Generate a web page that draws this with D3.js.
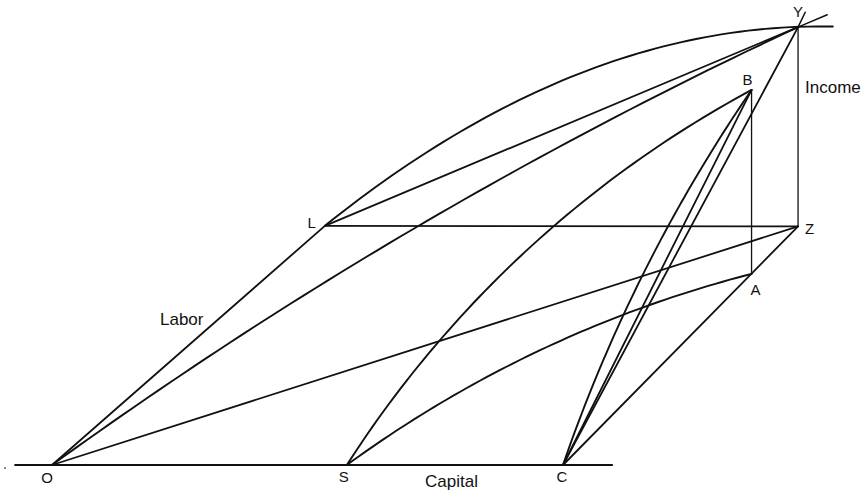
<!DOCTYPE html>
<html lang="en">
<head>
<meta charset="UTF-8">
<title>Income from Labor and Capital</title>
<style>
    body { margin: 0; background: #fff; }
    svg { display: block; }
    text { font-family: 'Liberation Sans', Arial, sans-serif; fill: #111; }
</style>
</head>
<body>
<svg width="868" height="493"></svg>
<script src="https://d3js.org/d3.v7.min.js"></script>
<script>
// points of the diagram, in capital units (O = origin, C = 100 along the capital axis)
const pointNames = ["O", "S", "C", "L", "Z", "A", "B", "Y"];
const pointX = [0, 57.7, 100, 53.4, 146, 136.9, 136.9, 146];
const pointY = [0, 0, 0, 46.8, 46.7, 37.4, 73.4, 85.7];

// straight segments between named points
const straights = [
    ["O", "L"], ["L", "Z"], ["L", "Y"], ["O", "Z"], ["C", "Z"],
    ["C", "B"], ["C", "Y"], ["B", "A"], ["Y", "Z"]
];

// the big curve from L over Y: a parabola (quadratic bezier) with its top just past Y
const topCurve = { from: "L", ctrl: [103.1, 86.8], end: [152.8, 85.8] };

// other curves: start, a point the curve passes through, end (circular arcs)
const arcs = [
    { from: "O", via: [71.4, 46.6], to: "Y" },
    { from: "S", via: [93.0, 42.1], to: "B" },
    { from: "S", via: [93.5, 21.5], to: "A" },
    { from: "C", via: [115.1, 36.2], to: "B" }
];

// short strokes running past Y
const tails = [[[146, 85.7], [151.7, 88.1]], [[146, 85.7], [147.4, 88.6]]];

// capital axis extent
const axisFrom = -7.2, axisTo = 109.6;

const svg = d3.select('svg');

const x = d3.scaleLinear().domain([0, 100]).range([52, 563]);
const y = d3.scaleLinear().domain([0, 100]).range([465, -46]);

const pts = {};
pointNames.forEach((n, i) => pts[n] = [pointX[i], pointY[i]]);

const line = d3.line().x(d => x(d[0])).y(d => y(d[1]));

// circle through three points, sampled from p1 to p3 passing p2
function arcPoints(p1, p2, p3) {
    const [ax, ay] = p1, [bx, by] = p2, [cx, cy] = p3;
    const d = 2 * (ax * (by - cy) + bx * (cy - ay) + cx * (ay - by));
    const ux = ((ax * ax + ay * ay) * (by - cy) + (bx * bx + by * by) * (cy - ay) + (cx * cx + cy * cy) * (ay - by)) / d;
    const uy = ((ax * ax + ay * ay) * (cx - bx) + (bx * bx + by * by) * (ax - cx) + (cx * cx + cy * cy) * (bx - ax)) / d;
    const r = Math.hypot(ax - ux, ay - uy);
    const a1 = Math.atan2(ay - uy, ax - ux);
    const a2 = Math.atan2(by - uy, bx - ux);
    const a3 = Math.atan2(cy - uy, cx - ux);
    const TAU = 2 * Math.PI;
    const ccw = ((a2 - a1 + TAU) % TAU) < ((a3 - a1 + TAU) % TAU);
    const span = ccw ? (a3 - a1 + TAU) % TAU : -((a1 - a3 + TAU) % TAU);
    return d3.range(0, 61).map(i => {
        const a = a1 + span * i / 60;
        return [ux + r * Math.cos(a), uy + r * Math.sin(a)];
    });
}

function quadPoints(p0, p1, p2) {
    return d3.range(0, 61).map(i => {
        const t = i / 60, u = 1 - t;
        return [u * u * p0[0] + 2 * u * t * p1[0] + t * t * p2[0],
                u * u * p0[1] + 2 * u * t * p1[1] + t * t * p2[1]];
    });
}

const g = svg.append('g')
    .attr('fill', 'none')
    .attr('stroke', '#111')
    .attr('stroke-linecap', 'round')
    .attr('stroke-linejoin', 'round');

// capital axis
g.append('line')
    .attr('x1', x(axisFrom)).attr('x2', x(axisTo))
    .attr('y1', y(0)).attr('y2', y(0))
    .attr('stroke-width', 2.2);

g.selectAll('.seg')
    .data(straights)
    .join('path')
    .attr('class', 'seg')
    .attr('d', d => line([pts[d[0]], pts[d[1]]]))
    .attr('stroke-width', d => (d[0] === 'B' || d[0] === 'Y') ? 1.3 : 1.8);

g.append('path')
    .attr('d', line(quadPoints(pts[topCurve.from], topCurve.ctrl, topCurve.end)))
    .attr('stroke-width', 1.9);

g.selectAll('.arc')
    .data(arcs)
    .join('path')
    .attr('class', 'arc')
    .attr('d', d => line(arcPoints(pts[d.from], d.via, pts[d.to])))
    .attr('stroke-width', 1.9);

g.selectAll('.tail')
    .data(tails)
    .join('path')
    .attr('class', 'tail')
    .attr('d', line)
    .attr('stroke-width', 1.5);

// stray dot left of the axis
svg.append('circle').attr('cx', x(-9.2)).attr('cy', y(-0.6)).attr('r', 0.9).attr('fill', '#333');

// point letters: [point, dx, dy, anchor]
const pointLabels = [
    ["Y", 0, -10, "middle"], ["B", -4, -5, "middle"], ["L", -9, 2, "end"],
    ["Z", 7, 8, "start"], ["A", -1, 21, "start"], ["O", -5, 18, "middle"],
    ["S", -3, 17, "middle"], ["C", -1, 17, "middle"]
];

svg.selectAll('.pl')
    .data(pointLabels)
    .join('text')
    .attr('class', 'pl')
    .attr('x', d => x(pts[d[0]][0]) + d[1])
    .attr('y', d => y(pts[d[0]][1]) + d[2])
    .attr('text-anchor', d => d[3])
    .attr('font-size', 15)
    .text(d => d[0]);

// axis words
const words = [["Labor", 160, 325], ["Capital", 425, 487], ["Income", 805, 93]];
svg.selectAll('.word')
    .data(words)
    .join('text')
    .attr('class', 'word')
    .attr('x', d => d[1])
    .attr('y', d => d[2])
    .attr('font-size', 17)
    .text(d => d[0]);
</script>
</body>
</html>
